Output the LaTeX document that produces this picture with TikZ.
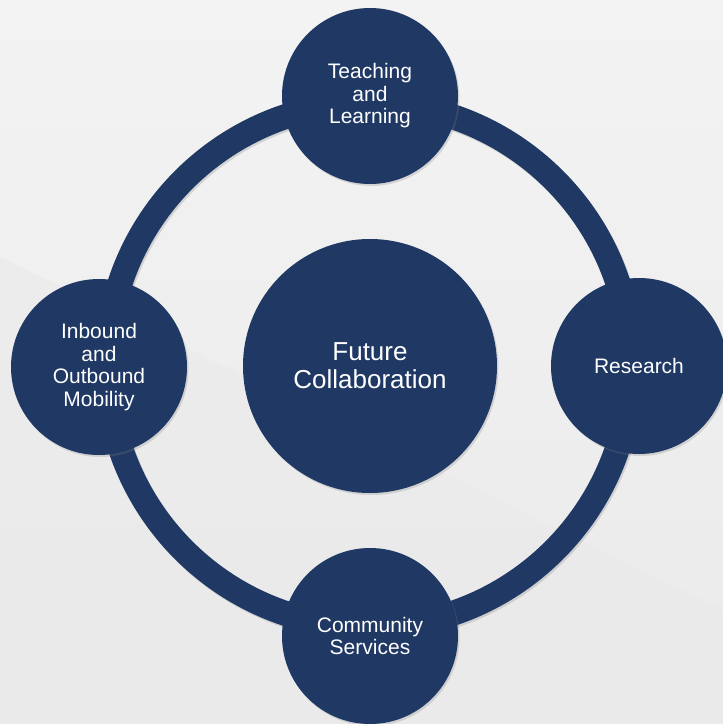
\documentclass[tikz,border=0pt]{standalone}
\usepackage{fontspec}
\usepackage{tikz}
\setmainfont{Liberation Sans}
\usetikzlibrary{shadows}
\usetikzlibrary{positioning}
\definecolor{navy}{RGB}{31, 56, 100}
\definecolor{bgtop}{RGB}{243, 243, 243}
\definecolor{bgbot}{RGB}{234, 234, 234}
\tikzset{bubble/.style = {fill = navy, circle, inner sep = 0, text = white, align = center,
    drop shadow = {opacity = 0.25, shadow xshift = 1.5pt, shadow yshift = -2pt}}}
\tikzset{sat/.style = {bubble, minimum size = 176pt, font = \fontsize{21}{22.5}\selectfont}}

\begin{document}
\begin{tikzpicture}[x = 1pt, y = -1pt]
      \useasboundingbox (0, 0) rectangle (723, 724);
      \shade [top color = bgtop, bottom color = bgbot] (0, 0) rectangle (723, 724);
      \fill [bgbot, opacity = 0.6] (0, 257) -- (723, 610) -- (723, 724) -- (0, 724) -- cycle;
      \coordinate (hub) at (369, 365);
      % ring
      \draw [black, opacity = 0.12, line width = 25pt] ([xshift = 1.5pt, yshift = -2pt] hub) circle [radius = 262pt];
      \draw [navy, line width = 25pt] (hub) circle [radius = 262pt];
      % satellites
      \node [sat] (teach) at (370, 96) {Teaching\\and\\Learning};
      \node [sat] (research) at (639, 366) {Research};
      \node [sat] (community) at (370, 636) {Community\\Services};
      \node [sat] (mobility) at (99, 367) {Inbound\\and\\Outbound\\Mobility};
      % centre
      \node [bubble, minimum size = 254pt, font = \fontsize{26}{28}\selectfont] (core) at (370, 366) {Future\\Collaboration};
    \end{tikzpicture}
\end{document}
